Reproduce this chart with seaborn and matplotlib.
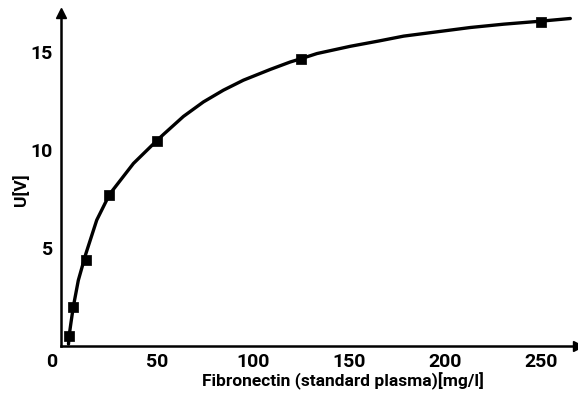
import matplotlib
matplotlib.use('Agg')
import matplotlib.pyplot as plt
import seaborn as sns

# measured points (fibronectin standard plasma, mg/l vs U in V)
conc = [4.2, 6.4, 12.9, 25, 50, 125, 250]
volts = [0.5, 2.0, 4.4, 7.7, 10.45, 14.65, 16.55]

# hand-drawn calibration curve
curve_x = [3.9, 4.2, 5.2, 6.4, 9.0, 12.9, 18.6, 25.3, 37.7, 50, 53.3, 63.7, 74.1, 84.5, 94.9,
           108.9, 119.3, 125, 133.2, 150.5, 165.3, 178.3, 195.7, 213, 230.4, 249.3, 265]
curve_y = [0.1, 0.5, 1.2, 2.0, 3.35, 4.7, 6.43, 7.75, 9.32, 10.5, 10.8, 11.72, 12.46, 13.06, 13.57,
           14.12, 14.5, 14.67, 14.93, 15.3, 15.57, 15.82, 16.04, 16.26, 16.43, 16.58, 16.72]

x_ticks = [50, 100, 150, 200, 250]
y_ticks = [5, 10, 15]

sns.set_style('white')
plt.rcParams['font.family'] = ['Roboto', 'DejaVu Sans']
plt.rcParams['text.color'] = 'black'
plt.rcParams['axes.labelcolor'] = 'black'
plt.rcParams['xtick.color'] = 'black'
plt.rcParams['ytick.color'] = 'black'

fig = plt.figure(figsize=(5.78, 3.94), dpi=100)
ax = fig.add_axes([61 / 578, 48 / 394, 517 / 578, 333 / 394])

sns.lineplot(x=curve_x, y=curve_y, sort=False, color='black', linewidth=2.4, ax=ax)
sns.scatterplot(x=conc, y=volts, marker='s', s=42, color='black', edgecolor='black', ax=ax, zorder=3)

fs = 12.5
tfs = 14
ax.set_xlim(0, 269)
ax.set_ylim(0, 17)
ax.set_xticks(x_ticks)
ax.set_yticks(y_ticks)
ax.set_xticklabels([str(t) for t in x_ticks], fontsize=tfs, fontweight='bold')
ax.set_yticklabels([str(t) for t in y_ticks], fontsize=tfs, fontweight='bold')
ax.tick_params(axis='x', direction='in', length=9, width=1.3, pad=5)
ax.tick_params(axis='y', direction='in', length=11, width=1.3, pad=6)

for side in ['top', 'right']:
    ax.spines[side].set_visible(False)
for side in ['left', 'bottom']:
    ax.spines[side].set_linewidth(1.8)
    ax.spines[side].set_color('black')

# axis arrows
ax.plot(1, 0, '>k', markersize=7, transform=ax.transAxes, clip_on=False)
ax.plot(0, 1, '^k', markersize=7, transform=ax.transAxes, clip_on=False)

ax.text(-5, -0.022, '0', transform=ax.get_xaxis_transform(), ha='center', va='top',
        fontsize=tfs, fontweight='bold')

ax.set_xlabel('Fibronectin (standard plasma)[mg/l]', fontsize=fs, fontweight='bold')
ax.xaxis.set_label_coords(0.545, -0.078)
ax.xaxis.label.set_va('top')
ax.set_ylabel('U[V]', fontsize=fs, fontweight='bold')
ax.yaxis.set_label_coords(-0.062, 0.47)

fig.savefig('out.png', dpi=100)
